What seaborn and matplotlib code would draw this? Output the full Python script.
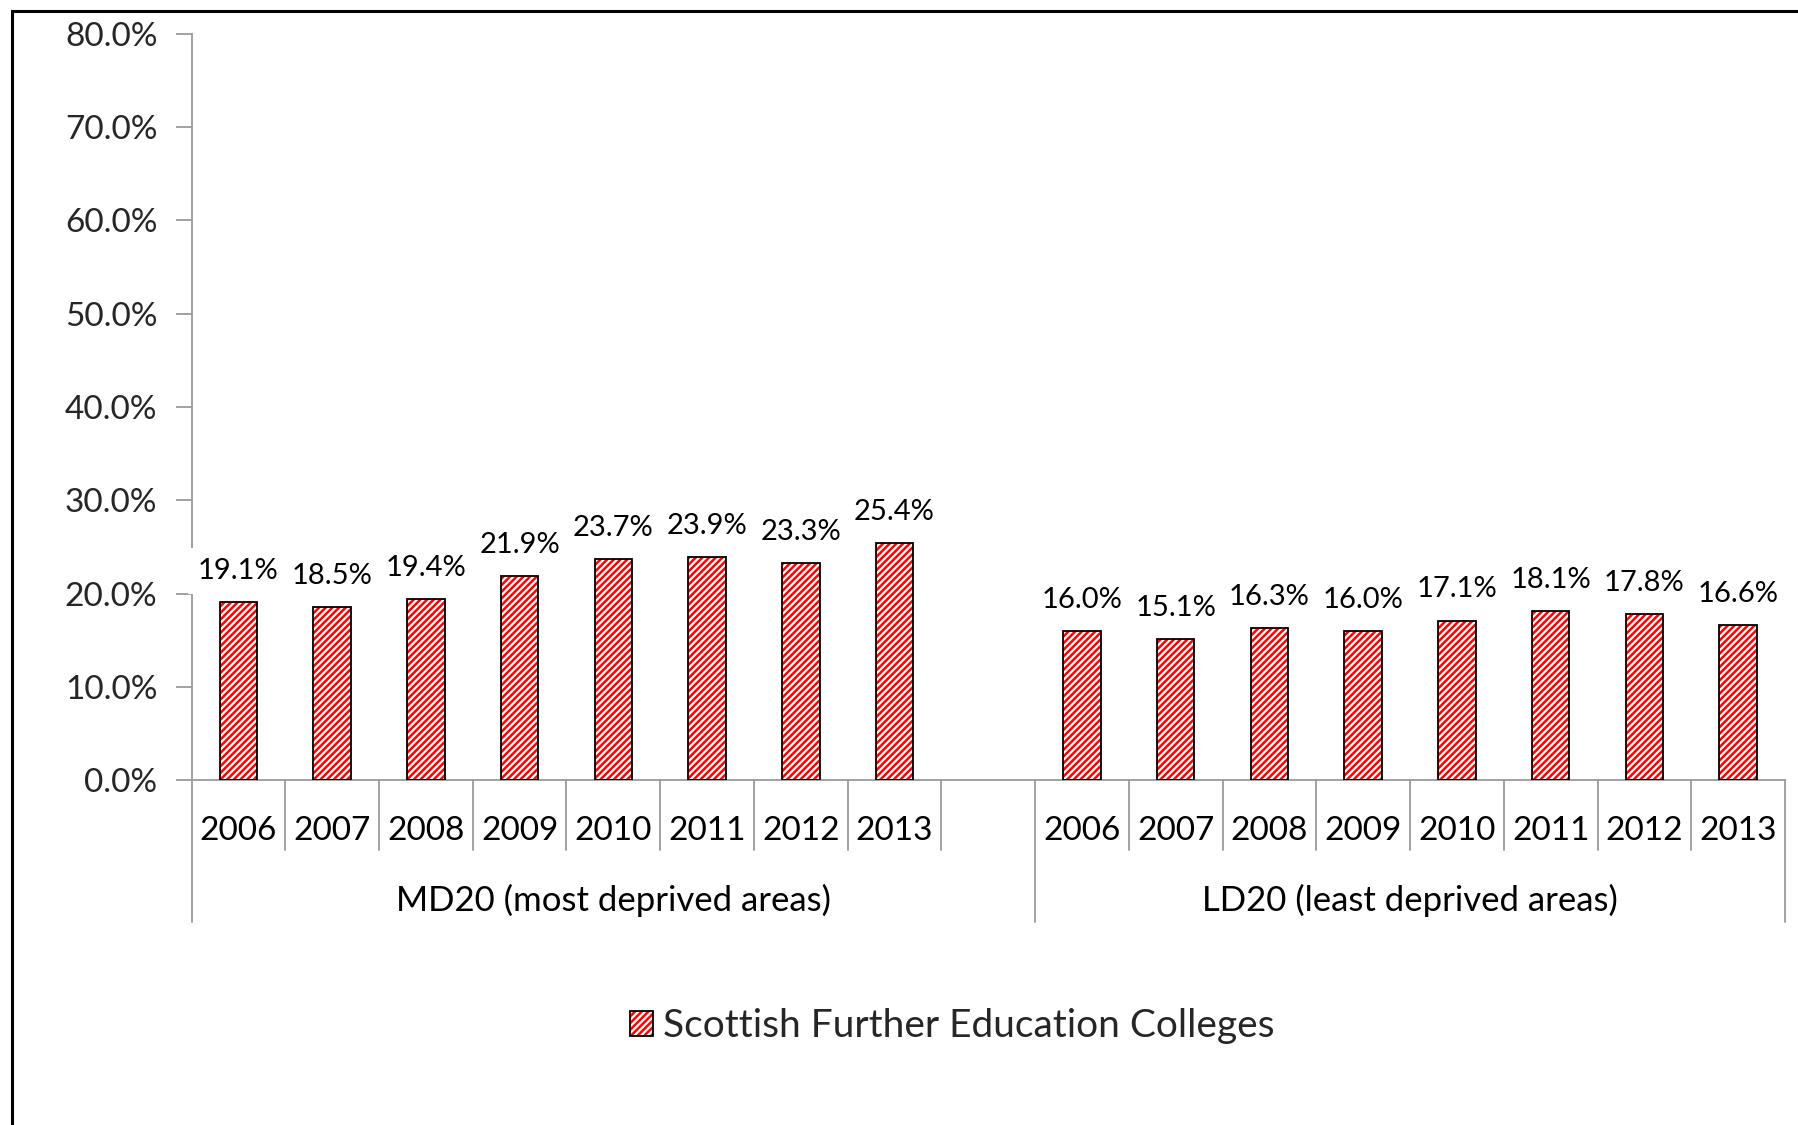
import numpy as np
import pandas as pd
import matplotlib
matplotlib.use("Agg")
import matplotlib.pyplot as plt
import matplotlib.transforms as mtransforms
from matplotlib.patches import Rectangle, Patch
from matplotlib.ticker import FuncFormatter
import seaborn as sns

# ---- data -------------------------------------------------------------
years = ["2006", "2007", "2008", "2009", "2010", "2011", "2012", "2013"]
groups = ["MD20 (most deprived areas)", "LD20 (least deprived areas)"]
md20_values = [19.1, 18.5, 19.4, 21.9, 23.7, 23.9, 23.3, 25.4]
ld20_values = [16.0, 15.1, 16.3, 16.0, 17.1, 18.1, 17.8, 16.6]
series_name = "Scottish Further Education Colleges"
y_ticks = [0, 10, 20, 30, 40, 50, 60, 70, 80]

# ---- table ------------------------------------------------------------
rows = []
for g, vals in zip(groups, [md20_values, ld20_values]):
    for y, v in zip(years, vals):
        rows.append({"slot": f"{g}|{y}", "group": g, "year": y, "value": v})
df = pd.DataFrame(rows)
md_slots = [f"{groups[0]}|{y}" for y in years]
ld_slots = [f"{groups[1]}|{y}" for y in years]
order = md_slots + ["gap"] + ld_slots

# ---- style ------------------------------------------------------------
sns.set_theme(style="white")
plt.rcParams["font.family"] = ["Lato", "DejaVu Sans"]
plt.rcParams["hatch.linewidth"] = 1.8
AXIS_GRAY = "#9a9a9a"
RED = "#ff0000"
HATCH = "/////"

fig = plt.figure(figsize=(17.98, 11.25), dpi=100)
ax = fig.add_axes([191.5 / 1798, 345 / 1125, (1785 - 191.5) / 1798, (780 - 34) / 1125])

sns.barplot(data=df, x="slot", y="value", order=order, width=0.4,
            color="white", saturation=1, edgecolor=RED, linewidth=0,
            hatch=HATCH, errorbar=None, ax=ax)

# black outlines over the hatched bars
for p in list(ax.patches):
    ax.add_patch(Rectangle(p.get_xy(), p.get_width(), p.get_height(),
                           fill=False, edgecolor="black", linewidth=1.3, zorder=3))

# value labels
ax.bar_label(ax.containers[0], fmt="{:.1f}%", padding=13, fontsize=21,
             color="black",
             bbox=dict(boxstyle="square,pad=0.35", fc="white", ec="none"))

# axes
ax.set_xlim(-0.5, len(order) - 0.5)
ax.set_ylim(0, 80)
ax.set_yticks(y_ticks)
ax.yaxis.set_major_formatter(FuncFormatter(lambda v, _: f"{v:.1f}%"))
ax.tick_params(axis="y", which="major", length=11.5, width=1.3, color=AXIS_GRAY,
               labelsize=24, pad=13, left=True, direction="out")
ax.tick_params(axis="x", bottom=False, labelbottom=False)
ax.set_xlabel("")
ax.set_ylabel("")
for s in ["top", "right"]:
    ax.spines[s].set_visible(False)
for s in ["left", "bottom"]:
    ax.spines[s].set_color(AXIS_GRAY)
    ax.spines[s].set_linewidth(1.3)
    ax.spines[s].set_zorder(1)

# multi-level category axis
trans = mtransforms.blended_transform_factory(ax.transData, ax.transAxes)
short_drop = -70 / 746
long_drop = -142 / 746
n = len(order)
for i in range(n + 1):
    b = i - 0.5
    is_long = i in (0, len(md_slots) + 1, n)
    ax.plot([b, b], [0, long_drop if is_long else short_drop], transform=trans,
            color=AXIS_GRAY, lw=1.3, clip_on=False, zorder=1)

for i, key in enumerate(order):
    if key == "gap":
        continue
    ax.text(i, -51 / 746, key.split("|")[1], transform=trans, ha="center",
            va="center", fontsize=24, color="black")

md_center = (0 - 0.5 + len(md_slots) + 0.5) / 2
ld_center = (len(md_slots) + 0.5 + n - 0.5) / 2
ax.text(md_center, -120 / 746, groups[0], transform=trans, ha="center",
        va="center", fontsize=25, color="black")
ax.text(ld_center, -120 / 746, groups[1], transform=trans, ha="center",
        va="center", fontsize=25, color="black")

# legend
hatch_patch = Patch(facecolor="white", edgecolor=RED, linewidth=0, hatch=HATCH)
outline_patch = Patch(facecolor="none", edgecolor="black", linewidth=1.3)
fig.legend([(hatch_patch, outline_patch)], [series_name], loc="center",
           bbox_to_anchor=(952 / 1798, (1125 - 1026) / 1125), frameon=False,
           fontsize=28, handlelength=0.6, handleheight=0.6, handletextpad=0.25)

# chart frame
fig.patches.append(Rectangle((12 / 1798, -0.2), 1.5, (1125 - 11) / 1125 + 0.2,
                             transform=fig.transFigure, fill=False,
                             edgecolor="black", linewidth=2.2))

fig.savefig("out.png", dpi=100, facecolor="white")
